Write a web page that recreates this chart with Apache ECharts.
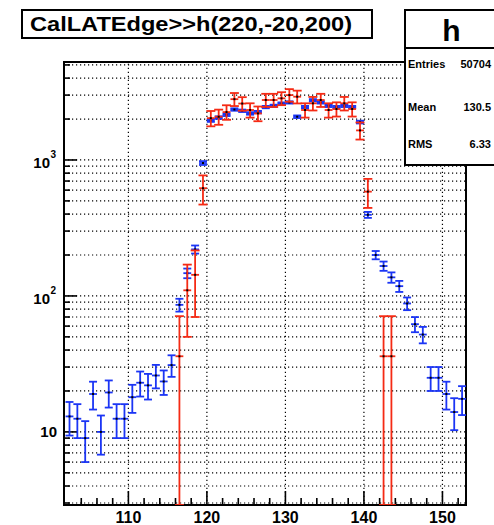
<!DOCTYPE html>
<html><head><meta charset="utf-8">
<script src="https://cdn.jsdelivr.net/npm/echarts@6/dist/echarts.min.js"></script>
<style>html,body{margin:0;padding:0;background:#fff}#c{width:494px;height:525px}</style>
</head><body><div id="c"></div>
<script>
// ---- data ----
const titleText = 'CalLATEdge>>h(220,-20,200)';
const statsName = 'h';
const statsLabels = ['Entries', 'Mean', 'RMS'];
const statsValues = ['50704', '130.5', '6.33'];

const binCenters = [102.5,103.5,104.5,105.5,106.5,107.5,108.5,109.5,110.5,111.5,
  112.5,113.5,114.5,115.5,116.5,117.5,118.5,119.5,120.5,121.5,
  122.5,123.5,124.5,125.5,126.5,127.5,128.5,129.5,130.5,131.5,
  132.5,133.5,134.5,135.5,136.5,137.5,138.5,139.5,140.5,141.5,
  142.5,143.5,144.5,145.5,146.5,147.5,148.5,149.5,150.5,151.5,152.5];
const blueValues = [13,12.5,9,19,10,19.5,12.5,12.5,18,23,
  22,26,23.5,31,86,147,220,950,1950,2050,
  2150,2350,2300,2200,2250,2450,2500,2600,2650,2080,
  2450,2750,2650,2500,2450,2500,2450,1900,395,200,
  166,137,118,88,62,52,25,25,19,14,17.5];
const blueErrors = [3.6,3.5,3,4.4,3.2,4.4,3.5,3.5,4.2,4.8,
  4.7,5.1,4.8,5.6,9.3,12,15,31,44,45,
  46,48,48,47,47,49,50,51,51,46,
  49,52,51,50,49,50,49,44,20,14,
  13,12,11,9.4,7.9,7.2,5,5,4.4,3.7,4.2];

const redBins = [116.5,117.5,118.5,119.5,120.5,121.5,122.5,123.5,124.5,125.5,
  126.5,127.5,128.5,129.5,130.5,131.5,132.5,133.5,134.5,135.5,
  136.5,137.5,138.5,139.5,140.5,142.5,143.5];
const redValues = [36,110,143,620,2030,2080,2250,2800,2600,2330,
  2200,2760,2760,2840,3000,2920,2330,2610,2760,2330,
  2370,2610,2370,1650,585,36,36];
const redErrors = [35,60,73,150,262,266,276,308,297,281,
  273,306,306,310,319,315,281,298,306,281,
  284,298,284,237,141,35,35];

const xMajorTicks = [110, 120, 130, 140, 150];
const xTickLabels = ['110', '120', '130', '140', '150'];
const yLabelValues = [10, 100, 1000];
const yLabelBase = ['10', '10', '10'];
const yLabelExp = ['', '2', '3'];

// ---- axis ranges ----
const X_MIN = 101.8, X_MAX = 153.0;
const Y_MIN = 2.9, Y_MAX = 5255;

const xMinorTicks = [];
for (let v = 104; v <= 152; v += 2) xMinorTicks.push(v);
const yGridValues = [];
[1, 10, 100, 1000].forEach(d => { for (let k = 1; k <= 9; k++) { const v = k * d; if (v > Y_MIN && v < Y_MAX) yGridValues.push(v); } });

const FONT = '"Liberation Sans", Arial, Helvetica, sans-serif';
const RED = '#f52a14';
const BLUE = '#1b35f5';

function makeErrRender(color, cw) {
  return function (params, api) {
    const x = api.value(0), v = api.value(1), e = api.value(2);
    const c = api.coord([x, v]);
    const xl = api.coord([x - 0.5, v])[0], xr = api.coord([x + 0.5, v])[0];
    const top = api.coord([x, Math.min(v + e, Y_MAX)])[1];
    const lowV = v - e;
    const bot = api.coord([x, lowV > Y_MIN ? lowV : Y_MIN])[1];
    const st = { stroke: color, lineWidth: 1.8 };
    return { type: 'group', children: [
      { type: 'line', shape: { x1: xl, y1: c[1], x2: xr, y2: c[1] }, style: st },
      { type: 'line', shape: { x1: c[0], y1: top, x2: c[0], y2: bot }, style: st },
      { type: 'line', shape: { x1: c[0] - cw, y1: top, x2: c[0] + cw, y2: top }, style: st },
      { type: 'line', shape: { x1: c[0] - cw, y1: bot, x2: c[0] + cw, y2: bot }, style: st },
      { type: 'rect', shape: { x: c[0] - 1, y: c[1] - 1, width: 2, height: 2 }, style: { fill: '#000' } }
    ] };
  };
}

const dotted = { stroke: '#000', lineWidth: 1.2, lineDash: [1.2, 2.8] };

const option = {
  animation: false,
  backgroundColor: '#fff',
  grid: { left: 64, right: 28, top: 62, bottom: 20, show: true, borderColor: '#000', borderWidth: 2, backgroundColor: 'transparent' },
  xAxis: { type: 'value', min: X_MIN, max: X_MAX, axisLabel: { show: false }, axisTick: { show: false }, splitLine: { show: false }, axisLine: { show: false } },
  yAxis: { type: 'log', logBase: 10, min: Y_MIN, max: Y_MAX, axisLabel: { show: false }, axisTick: { show: false }, splitLine: { show: false }, axisLine: { show: false } },
  series: [
    // horizontal dotted grid
    { type: 'custom', silent: true, z: 1, clip: false,
      data: yGridValues.map(v => [X_MIN, v]),
      renderItem: (p, api) => {
        const y = api.coord([X_MIN, api.value(1)])[1];
        const xl = api.coord([X_MIN, Y_MIN])[0], xr = api.coord([X_MAX, Y_MIN])[0];
        return { type: 'line', shape: { x1: xl, y1: y, x2: xr, y2: y }, style: dotted };
      } },
    // vertical dotted grid
    { type: 'custom', silent: true, z: 1, clip: false,
      data: xMajorTicks.map(v => [v, Y_MIN]),
      renderItem: (p, api) => {
        const x = api.coord([api.value(0), Y_MIN])[0];
        const yb = api.coord([X_MIN, Y_MIN])[1], yt = api.coord([X_MIN, Y_MAX])[1];
        return { type: 'line', shape: { x1: x, y1: yb, x2: x, y2: yt }, style: dotted };
      } },
    // y ticks
    { type: 'custom', silent: true, z: 2, clip: false,
      data: yGridValues.map(v => [X_MIN, v]),
      renderItem: (p, api) => {
        const v = api.value(1);
        const y = api.coord([X_MIN, v])[1];
        const xl = api.coord([X_MIN, Y_MIN])[0];
        const major = yLabelValues.indexOf(v) >= 0;
        return { type: 'line', shape: { x1: xl, y1: y, x2: xl + (major ? 13 : 6), y2: y }, style: { stroke: '#000', lineWidth: 1.6 } };
      } },
    // x ticks
    { type: 'custom', silent: true, z: 2, clip: false,
      data: xMinorTicks.map(v => [v, Y_MIN]),
      renderItem: (p, api) => {
        const v = api.value(0);
        const x = api.coord([v, Y_MIN])[0];
        const yb = api.coord([X_MIN, Y_MIN])[1];
        const major = xMajorTicks.indexOf(v) >= 0;
        return { type: 'line', shape: { x1: x, y1: yb, x2: x, y2: yb - (major ? 14 : 7) }, style: { stroke: '#000', lineWidth: 1.6 } };
      } },
    // x labels
    { type: 'custom', silent: true, z: 3, clip: false,
      data: xMajorTicks.map(v => [v, Y_MIN]),
      renderItem: (p, api) => {
        const c = api.coord([api.value(0), Y_MIN]);
        return { type: 'text', style: { text: xTickLabels[p.dataIndex], x: c[0], y: c[1] + 12, font: 'bold 16px ' + FONT, fill: '#000', align: 'center', verticalAlign: 'middle', textAlign: 'center', textVerticalAlign: 'middle' } };
      } },
    // y labels
    { type: 'custom', silent: true, z: 3, clip: false,
      data: yLabelValues.map(v => [X_MIN, v]),
      renderItem: (p, api) => {
        const i = p.dataIndex;
        const c = api.coord([X_MIN, api.value(1)]);
        if (!yLabelExp[i]) {
          return { type: 'text', style: { text: yLabelBase[i], x: c[0] - 7, y: c[1], font: 'bold 15px ' + FONT, fill: '#000', align: 'right', verticalAlign: 'middle', textAlign: 'right', textVerticalAlign: 'middle' } };
        }
        return { type: 'group', children: [
          { type: 'text', style: { text: yLabelBase[i], x: c[0] - 14, y: c[1] + 3, font: 'bold 15px ' + FONT, fill: '#000', align: 'right', verticalAlign: 'middle', textAlign: 'right', textVerticalAlign: 'middle' } },
          { type: 'text', style: { text: yLabelExp[i], x: c[0] - 13.5, y: c[1] - 5, font: 'bold 10px ' + FONT, fill: '#000', align: 'left', verticalAlign: 'middle', textAlign: 'left', textVerticalAlign: 'middle' } }
        ] };
      } },
    // blue histogram
    { type: 'custom', name: 'blue', z: 5, clip: true,
      data: binCenters.map((x, i) => [x, blueValues[i], blueErrors[i]]),
      encode: { x: 0, y: 1 },
      renderItem: makeErrRender(BLUE, 4) },
    // red histogram
    { type: 'custom', name: 'red', z: 6, clip: true,
      data: redBins.map((x, i) => [x, redValues[i], redErrors[i]]),
      encode: { x: 0, y: 1 },
      renderItem: makeErrRender(RED, 4.5) }
  ],
  graphic: [
    { type: 'rect', z: 100, shape: { x: 22, y: 10, width: 350, height: 28 }, style: { fill: '#fff', stroke: '#000', lineWidth: 2 } },
    { type: 'text', z: 101, x: 30, y: 24.5, scaleX: 1.18, style: { text: titleText, font: 'bold 20px ' + FONT, fill: '#000', verticalAlign: 'middle', textVerticalAlign: 'middle' } },
    { type: 'rect', z: 100, shape: { x: 405, y: 10, width: 130, height: 155 }, style: { fill: '#fff', stroke: '#000', lineWidth: 2 } },
    { type: 'line', z: 101, shape: { x1: 405, y1: 48, x2: 535, y2: 48 }, style: { stroke: '#000', lineWidth: 2 } },
    { type: 'text', z: 101, x: 451.5, y: 30, style: { text: statsName, font: 'bold 30px ' + FONT, fill: '#000', align: 'center', verticalAlign: 'middle', textAlign: 'center', textVerticalAlign: 'middle' } },
    { type: 'text', z: 101, x: 408, y: 63.5, style: { text: statsLabels[0], font: 'bold 11px ' + FONT, fill: '#000', verticalAlign: 'middle', textVerticalAlign: 'middle' } },
    { type: 'text', z: 101, x: 408, y: 106.5, style: { text: statsLabels[1], font: 'bold 11px ' + FONT, fill: '#000', verticalAlign: 'middle', textVerticalAlign: 'middle' } },
    { type: 'text', z: 101, x: 408, y: 143.5, style: { text: statsLabels[2], font: 'bold 11px ' + FONT, fill: '#000', verticalAlign: 'middle', textVerticalAlign: 'middle' } },
    { type: 'text', z: 101, x: 491, y: 63.5, style: { text: statsValues[0], font: 'bold 11px ' + FONT, fill: '#000', align: 'right', textAlign: 'right', verticalAlign: 'middle', textVerticalAlign: 'middle' } },
    { type: 'text', z: 101, x: 491, y: 106.5, style: { text: statsValues[1], font: 'bold 11px ' + FONT, fill: '#000', align: 'right', textAlign: 'right', verticalAlign: 'middle', textVerticalAlign: 'middle' } },
    { type: 'text', z: 101, x: 491, y: 143.5, style: { text: statsValues[2], font: 'bold 11px ' + FONT, fill: '#000', align: 'right', textAlign: 'right', verticalAlign: 'middle', textVerticalAlign: 'middle' } }
  ]
};

const chart = echarts.init(document.getElementById('c'), null, { renderer: 'svg', width: 494, height: 525 });
chart.setOption(option);
</script>
</body></html>
